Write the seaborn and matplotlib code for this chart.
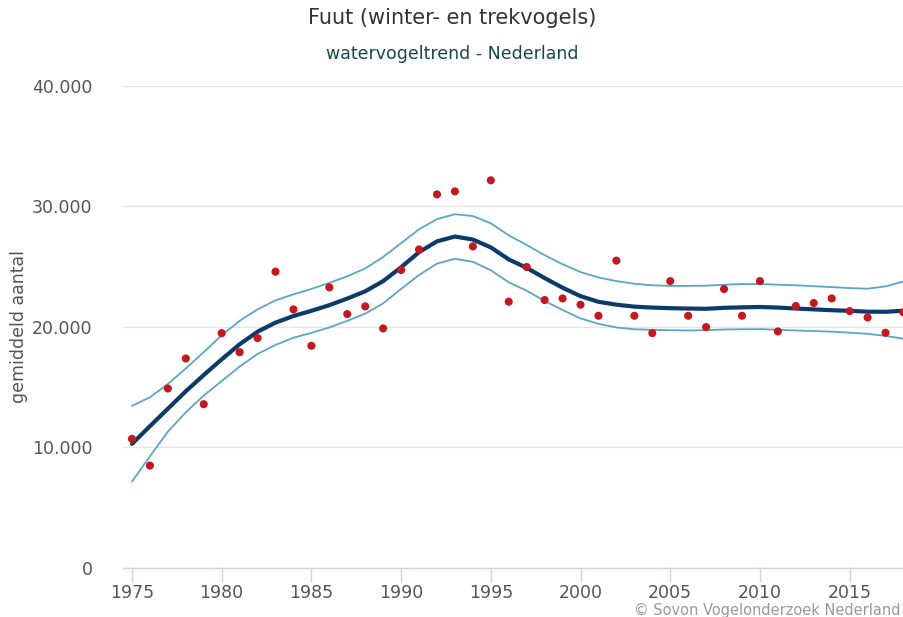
import numpy as np
import pandas as pd
import matplotlib
matplotlib.use("Agg")
import matplotlib.pyplot as plt
import matplotlib.ticker as mticker
import seaborn as sns

years = list(range(1975, 2019))

counts = [10700, 8480, 14880, 17370, 13580, 19480, 17900, 19070, 24580, 21450,
          18430, 23280, 21060, 21700, 19870, 24720, 26430, 31000, 31250, 26680,
          32170, 22090, 24970, 22230, 22360, 21840, 20920, 25500, 20920, 19480,
          23800, 20920, 19980, 23140, 20920, 23800, 19620, 21730, 21980, 22360,
          21310, 20780, 19510, 21200]

trend = [10280, 11750, 13200, 14650, 16000, 17300, 18550, 19600, 20350, 20900,
         21330, 21800, 22350, 22950, 23800, 24950, 26200, 27100, 27500, 27250,
         26600, 25600, 24900, 24050, 23250, 22550, 22080, 21840, 21680, 21600,
         21550, 21520, 21500, 21580, 21620, 21650, 21600, 21520, 21450, 21380,
         21330, 21260, 21250, 21340]

upper = [13440, 14150, 15250, 16550, 17900, 19300, 20500, 21450, 22200, 22700,
         23150, 23650, 24200, 24850, 25800, 26950, 28100, 28950, 29350, 29200,
         28600, 27600, 26800, 25950, 25200, 24550, 24100, 23800, 23580, 23450,
         23400, 23400, 23420, 23500, 23550, 23560, 23500, 23450, 23380, 23300,
         23220, 23170, 23360, 23770]

lower = [7150, 9250, 11300, 12900, 14300, 15500, 16700, 17750, 18500, 19100,
         19500, 19950, 20500, 21100, 21950, 23150, 24300, 25250, 25650, 25400,
         24700, 23700, 23000, 22150, 21400, 20700, 20250, 19950, 19800, 19750,
         19720, 19700, 19720, 19780, 19800, 19810, 19760, 19700, 19650, 19600,
         19520, 19420, 19250, 19010]

yticks = [0, 10000, 20000, 30000, 40000]
xticks = list(range(1975, 2016, 5))

df = pd.DataFrame({"jaar": years, "aantal": counts, "trend": trend,
                   "boven": upper, "onder": lower})

sns.set_theme(style="white")
plt.rcParams["font.family"] = ["DejaVu Sans"]

fig = plt.figure(figsize=(9.04, 6.17), dpi=100)
ax = fig.add_axes([123 / 904, 1 - 567.7 / 617, 1 - 123 / 904, (567.7 - 86) / 617])

band_col = "#5ba6c4"
sns.lineplot(data=df, x="jaar", y="boven", color=band_col, lw=1.3, ax=ax)
sns.lineplot(data=df, x="jaar", y="onder", color=band_col, lw=1.3, ax=ax)
sns.lineplot(data=df, x="jaar", y="trend", color="#0b3b6b", lw=3, ax=ax)
sns.scatterplot(data=df, x="jaar", y="aantal", color="#c8161d", s=34,
                edgecolor="none", ax=ax, zorder=5)

ax.set_xlim(1974.5, 2018.03)
ax.set_ylim(0, 40000)
ax.set_yticks(yticks)
ax.set_xticks(xticks)
ax.yaxis.set_major_formatter(mticker.FuncFormatter(
    lambda v, p: f"{int(v):,}".replace(",", ".")))
ax.grid(axis="y", color="#e6e6e6", lw=1)
ax.set_axisbelow(True)
for s in ["top", "right", "left"]:
    ax.spines[s].set_visible(False)
ax.spines["bottom"].set_color("#ccd6eb")
ax.spines["bottom"].set_linewidth(1)
ax.tick_params(axis="x", length=10, width=1, color="#ccd6eb", labelsize=12.5,
               labelcolor="#555555", pad=2, bottom=True)
ax.tick_params(axis="y", length=0, labelsize=12.5, labelcolor="#555555", pad=22)
ax.set_xlabel("")
ax.set_ylabel("gemiddeld aantal", fontsize=12.5, color="#555555", labelpad=3)

fig.text(0.5, 1 - 18 / 617, "Fuut (winter- en trekvogels)", ha="center",
         va="center", fontsize=15, color="#333333")
fig.text(0.5, 1 - 54 / 617, "watervogeltrend - Nederland", ha="center",
         va="center", fontsize=12.5, color="#17474f")
# reference crops this text at the right edge; keep it whole instead
fig.text(901 / 904, 1 - 610 / 617, "© Sovon Vogelonderzoek Nederland",
         ha="right", va="center", fontsize=10.5, color="#999999")

fig.savefig("out.png", dpi=100)
